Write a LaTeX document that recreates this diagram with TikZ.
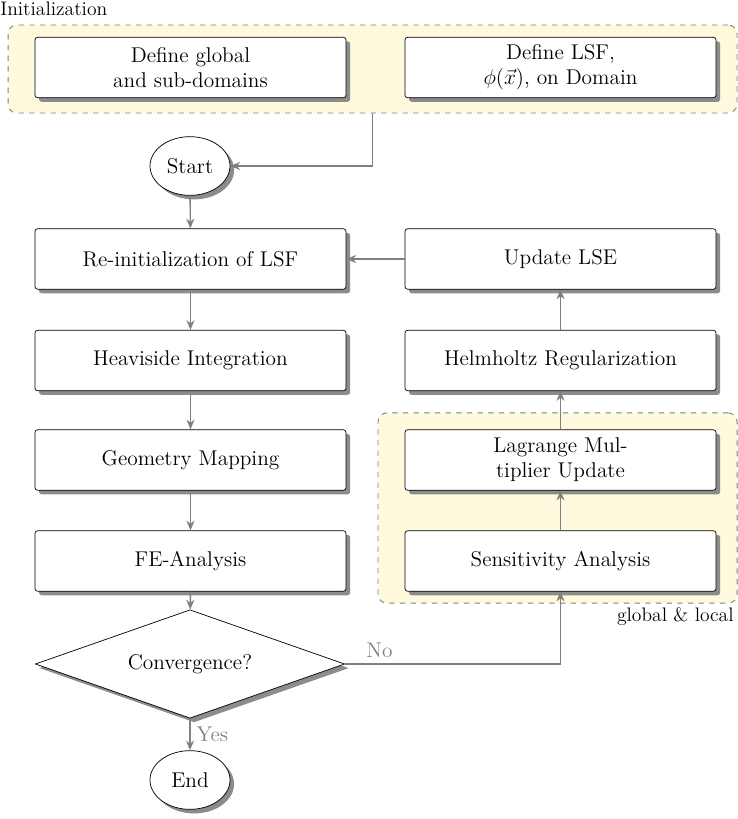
\documentclass[tikz,border=0pt]{standalone}
\usepackage{amsmath}
\usetikzlibrary{shapes.geometric, shadows, positioning, arrows.meta}

\definecolor{groupfill}{RGB}{255,249,221}
\tikzset{
  every node/.style={font=\fontsize{11}{13.5}\selectfont},
  block/.style={draw, fill=white, rounded corners=1.5pt, align=center,
    minimum width=175pt, minimum height=34pt, font=\fontsize{12}{14}\selectfont,
    drop shadow={shadow xshift=2.3pt, shadow yshift=-2.3pt, fill=black!45, opacity=1}},
  term/.style={draw, fill=white, ellipse, minimum width=45pt, minimum height=33pt,
    inner sep=1pt, font=\fontsize{12}{14}\selectfont,
    drop shadow={shadow xshift=2.3pt, shadow yshift=-2.3pt, fill=black!45, opacity=1}},
  decide/.style={draw, fill=white, diamond, aspect=2.9, minimum width=174pt, minimum height=61pt,
    inner sep=0pt, font=\fontsize{12}{14}\selectfont,
    drop shadow={shadow xshift=2.3pt, shadow yshift=-2.3pt, fill=black!45, opacity=1}},
  group/.style={draw=black!50, dashed, line width=0.5pt, fill=groupfill, rounded corners=5pt},
  flow/.style={draw=black!50, line width=0.8pt, -{Stealth[length=5.5pt, width=4.5pt]}},
  tag/.style={text=black!50, font=\fontsize{12}{14}\selectfont}
}

\begin{document}
\begin{tikzpicture}[x=0.5625pt, y=-0.5625pt]
\useasboundingbox (0,0) rectangle (738,819);

% groups
\node[group, minimum width=410pt, minimum height=49.5pt] (initgrp) at (372.5,69) {};
\node[group, minimum width=202pt, minimum height=107pt] (optgrp) at (557.5,508) {};
\node[anchor=west, inner sep=0pt] (initlbl) at (0,9) {Initialization};
\node[anchor=north east, inner sep=2pt] (optlbl) at (optgrp.south east) {global \& local};

% left column
\node[block] (dom) at (190.5,67.5) {Define global\\and sub-domains};
\node[block] (lsf) at (560.5,67.5) {Define LSF,\\$\phi(\vec{x})$, on Domain};
\node[term] (start) at (190,166) {Start};
\node[block] (reinit) at (190.5,259) {Re-initialization of LSF};
\node[block] (heavi) at (190.5,360.5) {Heaviside Integration};
\node[block] (geom) at (190.5,460) {Geometry Mapping};
\node[block] (fea) at (190.5,561) {FE-Analysis};
\node[decide] (conv) at (190,664) {Convergence?};
\node[term] (stop) at (190,780) {End};

% right column
\node[block] (upd) at (560.5,259) {Update LSE};
\node[block] (helm) at (560.5,360.5) {Helmholtz Regularization};
\node[block] (lag) at (560.5,460) {Lagrange Mul-\\tiplier Update};
\node[block] (sens) at (560.5,561) {Sensitivity Analysis};

% connectors
\draw[flow] (initgrp.south) |- (start.east);
\draw[flow] (start) -- (reinit);
\draw[flow] (reinit) -- (heavi);
\draw[flow] (heavi) -- (geom);
\draw[flow] (geom) -- (fea);
\draw[flow] (fea) -- (conv);
\draw[flow] (conv) -- node[tag, right] {Yes} (stop);
\draw[flow] (conv.east) -| node[tag, pos=0.08, above] {No} (sens.south);
\draw[flow] (sens) -- (lag);
\draw[flow] (lag) -- (helm);
\draw[flow] (helm) -- (upd);
\draw[flow] (upd) -- (reinit);
\end{tikzpicture}
\end{document}
